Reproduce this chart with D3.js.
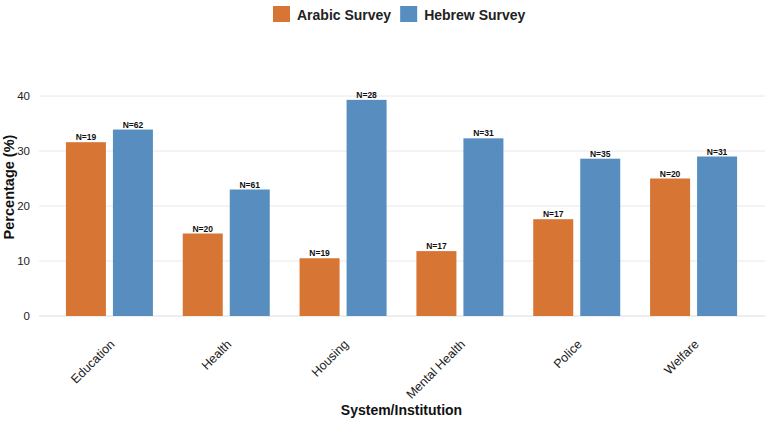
<!DOCTYPE html>
<html>
<head>
<meta charset="utf-8">
<script src="https://cdn.jsdelivr.net/npm/d3@7"></script>
<style>
  html, body { margin: 0; padding: 0; background: #fff; }
  svg { display: block; font-family: "Liberation Sans", Arial, sans-serif; }
</style>
</head>
<body>
<svg id="chart" width="767" height="422"></svg>
<script>
const categories = ["Education", "Health", "Housing", "Mental Health", "Police", "Welfare"];
const seriesNames = ["Arabic Survey", "Hebrew Survey"];
const arabicValues = [31.6, 15.0, 10.5, 11.8, 17.6, 25.0];
const hebrewValues = [33.9, 23.0, 39.3, 32.3, 28.6, 29.0];
const arabicN = [19, 20, 19, 17, 17, 20];
const hebrewN = [62, 61, 28, 31, 35, 31];
const yTicks = [0, 10, 20, 30, 40];
const colors = ["#D67534", "#578DBF"];

const svg = d3.select("#chart");
const plot = { left: 39, right: 765, top: 96, bottom: 316 };

const x = d3.scaleBand().domain(categories).range([51, 752]).paddingInner(0).paddingOuter(0);
const bw = x.bandwidth();
const xInner = d3.scaleBand().domain(seriesNames)
  .range([(bw - 87) / 2, (bw + 87) / 2]).paddingInner(0.149).paddingOuter(0);
const y = d3.scaleLinear().domain([0, 40]).range([plot.bottom, plot.top]);

// gridlines
svg.append("g").selectAll("line").data(yTicks).join("line")
  .attr("x1", plot.left).attr("x2", plot.right)
  .attr("y1", d => y(d)).attr("y2", d => y(d))
  .attr("stroke", d => d === 0 ? "#dcdcdc" : "#e8e8e8")
  .attr("stroke-width", 1);

// y axis labels
const yAxis = d3.axisLeft(y).tickValues(yTicks).tickSize(0).tickPadding(0);
const yg = svg.append("g").attr("transform", "translate(30,0)").call(yAxis);
yg.select(".domain").remove();
yg.selectAll("text").attr("font-size", 11.5).attr("fill", "#222")
  .attr("font-family", "Liberation Sans, Arial, sans-serif");

// bars
const rows = categories.map((c, i) => ({
  cat: c,
  vals: [
    { s: seriesNames[0], v: arabicValues[i], n: arabicN[i], col: colors[0] },
    { s: seriesNames[1], v: hebrewValues[i], n: hebrewN[i], col: colors[1] }
  ]
}));

const groups = svg.append("g").selectAll("g").data(rows).join("g")
  .attr("transform", d => `translate(${x(d.cat)},0)`);

groups.selectAll("rect").data(d => d.vals).join("rect")
  .attr("x", d => xInner(d.s))
  .attr("width", xInner.bandwidth())
  .attr("y", d => y(d.v))
  .attr("height", d => y(0) - y(d.v))
  .attr("fill", d => d.col);

groups.selectAll("text").data(d => d.vals).join("text")
  .attr("x", d => xInner(d.s) + xInner.bandwidth() / 2)
  .attr("y", d => y(d.v) - 2)
  .attr("text-anchor", "middle")
  .attr("font-size", 8.5)
  .attr("font-weight", "bold")
  .attr("fill", "#111")
  .text(d => "N=" + d.n);

// x tick labels
const xAxis = d3.axisBottom(x).tickSize(0).tickPadding(0);
const xg = svg.append("g").attr("transform", `translate(0,${plot.bottom})`).call(xAxis);
xg.select(".domain").remove();
xg.selectAll(".tick text")
  .attr("font-size", 12.5)
  .attr("fill", "#222")
  .attr("text-anchor", "end")
  .attr("dy", null)
  .attr("y", null)
  .attr("transform", "translate(6,29) rotate(-45)")
  .attr("font-family", "Liberation Sans, Arial, sans-serif");

// axis titles
svg.append("text")
  .attr("x", (51 + 752) / 2).attr("y", 415)
  .attr("text-anchor", "middle")
  .attr("font-size", 14).attr("font-weight", "bold").attr("fill", "#111")
  .text("System/Institution");

svg.append("text")
  .attr("transform", "translate(13.5,187) rotate(-90)")
  .attr("text-anchor", "middle")
  .attr("font-size", 14.5).attr("font-weight", "bold").attr("fill", "#111")
  .text("Percentage (%)");

// legend
const legend = svg.append("g");
let lx = 273;
seriesNames.forEach((s, i) => {
  legend.append("rect").attr("x", lx).attr("y", 6).attr("width", 17).attr("height", 16).attr("fill", colors[i]);
  const t = legend.append("text").attr("x", lx + 24).attr("y", 20)
    .attr("font-size", 14).attr("font-weight", "bold").attr("fill", "#222").text(s);
  lx = lx + 24 + t.node().getComputedTextLength() + 9;
});
</script>
</body>
</html>
